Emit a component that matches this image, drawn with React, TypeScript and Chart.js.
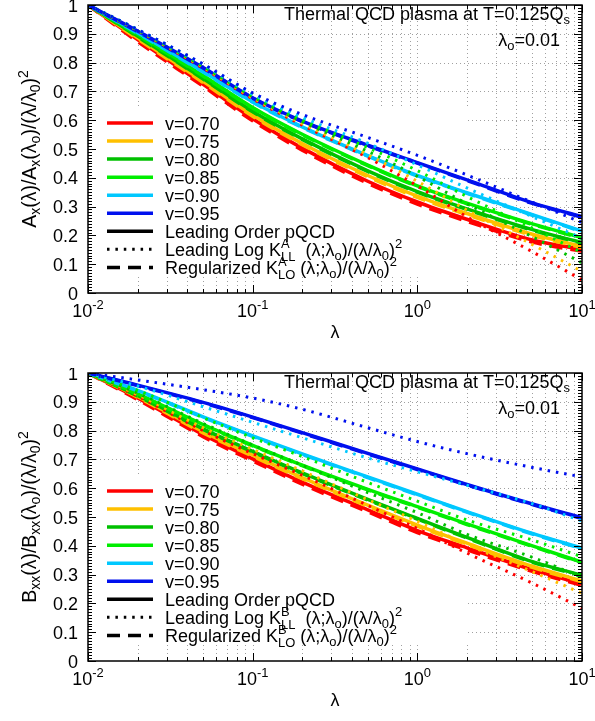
import React, { useEffect, useRef } from 'react';
import { Chart, registerables } from 'chart.js';

Chart.register(...registerables);

// ---------------- data ----------------
const lambdas = [0.01, 0.02, 0.05, 0.1, 0.2, 0.5, 1, 2, 5, 10];
const seriesLabels = ['v=0.70', 'v=0.75', 'v=0.80', 'v=0.85', 'v=0.90', 'v=0.95'];
const seriesColors = ['#ff0000', '#ffc000', '#00c000', '#00ee00', '#00c8ff', '#0010ee'];

const xTickValues = [0.01, 0.1, 1, 10];
const xTickExponents = ['-2', '-1', '0', '1'];
const yTickValues = [0, 0.1, 0.2, 0.3, 0.4, 0.5, 0.6, 0.7, 0.8, 0.9, 1];
const yTickLabels = ['0', '0.1', '0.2', '0.3', '0.4', '0.5', '0.6', '0.7', '0.8', '0.9', '1'];

// Top panel: A_x, Leading Order pQCD (solid)
const aLO070 = [1, 0.88, 0.725, 0.605, 0.503, 0.388, 0.316, 0.256, 0.184, 0.151];
const aLO075 = [1, 0.886, 0.735, 0.618, 0.519, 0.408, 0.336, 0.276, 0.204, 0.162];
const aLO080 = [1, 0.892, 0.745, 0.631, 0.535, 0.424, 0.352, 0.292, 0.22, 0.175];
const aLO085 = [1, 0.898, 0.755, 0.644, 0.551, 0.444, 0.372, 0.312, 0.24, 0.192];
const aLO090 = [1, 0.904, 0.769, 0.664, 0.577, 0.477, 0.408, 0.348, 0.272, 0.215];
const aLO095 = [1, 0.91, 0.783, 0.678, 0.597, 0.513, 0.453, 0.393, 0.313, 0.265];
// Top panel: Leading Log (dotted)
const aLL070 = [1, 0.911, 0.781, 0.674, 0.583, 0.47, 0.372, 0.265, 0.143, 0.045];
const aLL075 = [1, 0.912, 0.784, 0.678, 0.589, 0.48, 0.388, 0.288, 0.168, 0.075];
const aLL080 = [1, 0.913, 0.787, 0.682, 0.595, 0.492, 0.405, 0.31, 0.195, 0.105];
const aLL085 = [1, 0.914, 0.79, 0.686, 0.602, 0.505, 0.425, 0.335, 0.225, 0.14];
const aLL090 = [1, 0.915, 0.793, 0.69, 0.61, 0.52, 0.445, 0.365, 0.265, 0.19];
const aLL095 = [1, 0.915, 0.795, 0.695, 0.62, 0.54, 0.478, 0.41, 0.315, 0.245];
// Top panel: Regularized (dashed)
const aRG070 = [1, 0.873, 0.718, 0.598, 0.496, 0.381, 0.309, 0.249, 0.177, 0.145];
const aRG075 = [1, 0.882, 0.731, 0.614, 0.515, 0.404, 0.332, 0.272, 0.2, 0.158];
const aRG080 = [1, 0.89, 0.743, 0.629, 0.533, 0.422, 0.35, 0.29, 0.218, 0.173];
const aRG085 = [1, 0.896, 0.753, 0.642, 0.549, 0.442, 0.37, 0.31, 0.238, 0.19];
const aRG090 = [1, 0.902, 0.767, 0.662, 0.575, 0.475, 0.406, 0.346, 0.27, 0.213];
const aRG095 = [1, 0.908, 0.781, 0.676, 0.595, 0.511, 0.451, 0.391, 0.311, 0.263];

// Bottom panel: B_xx, Leading Order pQCD (solid)
const bLO070 = [1, 0.913, 0.786, 0.702, 0.621, 0.525, 0.453, 0.393, 0.317, 0.267];
const bLO075 = [1, 0.919, 0.796, 0.715, 0.637, 0.541, 0.472, 0.409, 0.329, 0.278];
const bLO080 = [1, 0.922, 0.806, 0.728, 0.653, 0.561, 0.495, 0.429, 0.345, 0.298];
const bLO085 = [1, 0.928, 0.821, 0.749, 0.68, 0.596, 0.536, 0.476, 0.4, 0.343];
const bLO090 = [1, 0.94, 0.848, 0.782, 0.719, 0.639, 0.579, 0.519, 0.443, 0.392];
const bLO095 = [1, 0.958, 0.898, 0.847, 0.793, 0.721, 0.667, 0.613, 0.545, 0.497];
// Bottom panel: Leading Log (dotted)
const bLL070 = [1, 0.92, 0.8, 0.72, 0.645, 0.54, 0.46, 0.375, 0.27, 0.183];
const bLL075 = [1, 0.925, 0.81, 0.735, 0.66, 0.56, 0.485, 0.405, 0.31, 0.235];
const bLL080 = [1, 0.93, 0.825, 0.75, 0.68, 0.585, 0.515, 0.44, 0.36, 0.29];
const bLL085 = [1, 0.94, 0.845, 0.775, 0.71, 0.62, 0.555, 0.49, 0.42, 0.362];
const bLL090 = [1, 0.955, 0.883, 0.829, 0.775, 0.705, 0.657, 0.61, 0.546, 0.486];
const bLL095 = [1, 0.976, 0.942, 0.913, 0.874, 0.81, 0.762, 0.72, 0.672, 0.639];
// Bottom panel: Regularized (dashed)
const bRG070 = [1, 0.908, 0.779, 0.695, 0.614, 0.518, 0.446, 0.386, 0.311, 0.262];
const bRG075 = [1, 0.916, 0.792, 0.711, 0.633, 0.537, 0.468, 0.405, 0.325, 0.275];
const bRG080 = [1, 0.92, 0.804, 0.726, 0.651, 0.559, 0.493, 0.427, 0.343, 0.296];
const bRG085 = [1, 0.926, 0.819, 0.747, 0.678, 0.594, 0.534, 0.474, 0.398, 0.341];
const bRG090 = [1, 0.938, 0.846, 0.78, 0.717, 0.637, 0.577, 0.517, 0.441, 0.39];
const bRG095 = [1, 0.956, 0.896, 0.845, 0.791, 0.719, 0.665, 0.611, 0.543, 0.495];

// ---------------- text helpers ----------------
type Seg = [string, ('n' | 'sup' | 'sub' | 'stack')?];
const FAMILY = '"Liberation Sans", Arial, Helvetica, sans-serif';
const FS = 18;
const SMALL = 0.72;
const font = (s: number) => `${s}px ${FAMILY}`;

function segW(ctx: CanvasRenderingContext2D, seg: Seg, size: number) {
  const [t, m = 'n'] = seg;
  if (m === 'n') {
    ctx.font = font(size);
    return ctx.measureText(t).width;
  }
  ctx.font = font(size * SMALL);
  if (m === 'stack') {
    const [a, b] = t.split('|');
    return Math.max(ctx.measureText(a).width, ctx.measureText(b).width);
  }
  return ctx.measureText(t).width;
}

function drawRich(
  ctx: CanvasRenderingContext2D,
  segs: Seg[],
  x: number,
  y: number,
  size: number,
  align: 'left' | 'right' | 'center'
) {
  const ws = segs.map((s) => segW(ctx, s, size));
  const total = ws.reduce((a, b) => a + b, 0);
  let cx = align === 'left' ? x : align === 'right' ? x - total : x - total / 2;
  ctx.textAlign = 'left';
  ctx.textBaseline = 'alphabetic';
  ctx.fillStyle = '#000';
  segs.forEach((s, i) => {
    const [t, m = 'n'] = s;
    if (m === 'n') {
      ctx.font = font(size);
      ctx.fillText(t, cx, y);
    } else {
      ctx.font = font(size * SMALL);
      if (m === 'sup') ctx.fillText(t, cx, y - size * 0.42);
      else if (m === 'sub') ctx.fillText(t, cx, y + size * 0.22);
      else {
        const [a, b] = t.split('|');
        ctx.fillText(a, cx, y - size * 0.42);
        ctx.fillText(b, cx, y + size * 0.26);
      }
    }
    cx += ws[i];
  });
}

// ---------------- panels ----------------
interface PanelDef {
  lo: number[][];
  ll: number[][];
  rg: number[][];
  yTitle: Seg[];
  kSup: string;
}

const topPanel: PanelDef = {
  lo: [aLO070, aLO075, aLO080, aLO085, aLO090, aLO095],
  ll: [aLL070, aLL075, aLL080, aLL085, aLL090, aLL095],
  rg: [aRG070, aRG075, aRG080, aRG085, aRG090, aRG095],
  yTitle: [['A'], ['x', 'sub'], ['(λ)/A'], ['x', 'sub'], ['(λ'], ['o', 'sub'], [')/(λ/λ'], ['0', 'sub'], [')'], ['2', 'sup']],
  kSup: 'A',
};

const bottomPanel: PanelDef = {
  lo: [bLO070, bLO075, bLO080, bLO085, bLO090, bLO095],
  ll: [bLL070, bLL075, bLL080, bLL085, bLL090, bLL095],
  rg: [bRG070, bRG075, bRG080, bRG085, bRG090, bRG095],
  yTitle: [['B'], ['xx', 'sub'], ['(λ)/B'], ['xx', 'sub'], ['(λ'], ['o', 'sub'], [')/(λ/λ'], ['0', 'sub'], [')'], ['2', 'sup']],
  kSup: 'B',
};

const DOT = [2.5, 5.9];
const DASH = [13, 8];
const LW = 3.5;

function framePlugin(panel: PanelDef) {
  return {
    id: 'frame',
    beforeDatasetsDraw(chart: any) {
      const { ctx, chartArea: a, scales } = chart;
      const xs = scales.x;
      const ys = scales.y;
      ctx.save();
      ctx.strokeStyle = '#a0a0a0';
      ctx.lineWidth = 1;
      ctx.setLineDash([1, 3]);
      for (let d = -2; d < 1; d++) {
        for (let k = 1; k <= 9; k++) {
          const v = k * Math.pow(10, d);
          if (v <= 0.01) continue;
          const px = Math.round(xs.getPixelForValue(v)) + 0.5;
          ctx.beginPath();
          ctx.moveTo(px, a.top);
          ctx.lineTo(px, a.bottom);
          ctx.stroke();
        }
      }
      yTickValues.forEach((v) => {
        if (v === 0 || v === 1) return;
        const py = Math.round(ys.getPixelForValue(v)) + 0.5;
        ctx.beginPath();
        ctx.moveTo(a.left, py);
        ctx.lineTo(a.right, py);
        ctx.stroke();
      });
      ctx.setLineDash([]);
      // opaque key box
      ctx.fillStyle = '#ffffff';
      ctx.fillRect(a.left + 1, a.top + 103, 379, 169);
      ctx.restore();
    },
    afterDatasetsDraw(chart: any) {
      const { ctx, chartArea: a, scales } = chart;
      const xs = scales.x;
      const ys = scales.y;
      ctx.save();
      // border
      ctx.strokeStyle = '#000';
      ctx.lineWidth = 1.5;
      ctx.strokeRect(a.left, a.top, a.right - a.left, a.bottom - a.top);
      ctx.lineWidth = 1;
      // x ticks (bottom & top, inward)
      for (let d = -2; d <= 1; d++) {
        for (let k = 1; k <= 9; k++) {
          const v = k * Math.pow(10, d);
          if (v > 10) break;
          const px = Math.round(xs.getPixelForValue(v)) + 0.5;
          const len = k === 1 ? 8 : 4;
          ctx.beginPath();
          ctx.moveTo(px, a.bottom);
          ctx.lineTo(px, a.bottom - len);
          ctx.moveTo(px, a.top);
          ctx.lineTo(px, a.top + len);
          ctx.stroke();
        }
      }
      // y ticks (left & right), minor every 0.01
      for (let i = 0; i <= 100; i++) {
        const py = Math.round(ys.getPixelForValue(i / 100)) + 0.5;
        const len = i % 10 === 0 ? 8 : 4;
        ctx.beginPath();
        ctx.moveTo(a.left, py);
        ctx.lineTo(a.left + len, py);
        ctx.moveTo(a.right, py);
        ctx.lineTo(a.right - len, py);
        ctx.stroke();
      }

      // y tick labels
      ctx.fillStyle = '#000';
      ctx.font = font(FS);
      ctx.textAlign = 'right';
      ctx.textBaseline = 'alphabetic';
      yTickValues.forEach((v, i) => {
        ctx.fillText(yTickLabels[i], a.left - 10, ys.getPixelForValue(v) + 6.5);
      });
      // x tick labels
      xTickValues.forEach((v, i) => {
        drawRich(ctx, [['10'], [xTickExponents[i], 'sup']], xs.getPixelForValue(v), a.bottom + 24, FS, 'center');
      });
      // axis titles
      drawRich(ctx, [['λ']], (a.left + a.right) / 2, a.bottom + 45, FS, 'center');
      ctx.save();
      ctx.translate(36, (a.top + a.bottom) / 2);
      ctx.rotate(-Math.PI / 2);
      drawRich(ctx, panel.yTitle, 0, 0, 19.5, 'center');
      ctx.restore();

      // labels
      drawRich(ctx, [['Thermal QCD plasma at T=0.125Q'], ['s', 'sub']], a.right - 12, a.top + 15, FS, 'right');
      drawRich(ctx, [['λ'], ['o', 'sub'], ['=0.01']], a.right - 22, a.top + 41, FS, 'right');

      // key
      const rowY0 = a.top + 118;
      const rowH = 18.05;
      const lx0 = a.left + 19;
      const lx1 = a.left + 65;
      const tx = a.left + 77;
      const keyRows: { color: string; dash: number[]; lw: number; text: Seg[] }[] = [];
      seriesLabels.forEach((lab, i) => keyRows.push({ color: seriesColors[i], dash: [], lw: LW, text: [[lab]] }));
      keyRows.push({ color: '#000', dash: [], lw: LW, text: [['Leading Order pQCD']] });
      keyRows.push({
        color: '#000',
        dash: DOT,
        lw: 3,
        text: [['Leading Log K'], [panel.kSup + '|LL', 'stack'], ['  (λ;λ'], ['o', 'sub'], [')/(λ/λ'], ['0', 'sub'], [')'], ['2', 'sup']],
      });
      keyRows.push({
        color: '#000',
        dash: DASH,
        lw: LW,
        text: [['Regularized K'], [panel.kSup + '|LO', 'stack'], [' (λ;λ'], ['o', 'sub'], [')/(λ/λ'], ['0', 'sub'], [')'], ['2', 'sup']],
      });
      keyRows.forEach((r, i) => {
        const y = rowY0 + i * rowH;
        ctx.strokeStyle = r.color;
        ctx.lineWidth = r.lw;
        ctx.lineCap = 'butt';
        ctx.setLineDash(r.dash);
        ctx.beginPath();
        ctx.moveTo(lx0, y);
        ctx.lineTo(lx1, y);
        ctx.stroke();
        ctx.setLineDash([]);
        drawRich(ctx, r.text, tx, y + 6.5, FS, 'left');
      });
      ctx.restore();
    },
  };
}

function makeConfig(panel: PanelDef, xAxisH: number): any {
  const datasets: any[] = [];
  const pts = (vals: number[]) => lambdas.map((x, i) => ({ x, y: vals[i] }));
  panel.lo.forEach((vals, i) =>
    datasets.push({
      label: seriesLabels[i] + ' LO',
      data: pts(vals),
      borderColor: seriesColors[i],
      borderWidth: LW,
      order: 30 - i,
    })
  );
  panel.rg.forEach((vals, i) =>
    datasets.push({
      label: seriesLabels[i] + ' Reg',
      data: pts(vals),
      borderColor: seriesColors[i],
      borderWidth: LW,
      borderDash: DASH,
      order: 20 - i,
    })
  );
  panel.ll.forEach((vals, i) =>
    datasets.push({
      label: seriesLabels[i] + ' LL',
      data: pts(vals),
      borderColor: seriesColors[i],
      borderWidth: 3,
      borderDash: DOT,
      borderCapStyle: 'butt',
      order: 10 - i,
    })
  );
  datasets.forEach((d) => {
    d.fill = false;
    d.pointRadius = 0;
    d.cubicInterpolationMode = 'monotone';
  });
  return {
    type: 'line',
    data: { datasets },
    options: {
      animation: false,
      responsive: false,
      events: [],
      layout: { padding: { top: 5, right: 13, left: 0, bottom: 0 }, autoPadding: false },
      plugins: { legend: { display: false }, tooltip: { enabled: false }, title: { display: false } },
      scales: {
        x: {
          type: 'logarithmic',
          min: 0.01,
          max: 10,
          grid: { display: false },
          border: { display: false },
          ticks: { display: false },
          afterFit: (s: any) => {
            s.height = xAxisH;
          },
        },
        y: {
          type: 'linear',
          min: 0,
          max: 1,
          grid: { display: false },
          border: { display: false },
          ticks: { display: false },
          afterFit: (s: any) => {
            s.width = 88;
          },
        },
      },
    },
    plugins: [framePlugin(panel)],
  };
}

function Panel({ panel, top, height }: { panel: PanelDef; top: number; height: number }) {
  const ref = useRef<HTMLCanvasElement>(null);
  useEffect(() => {
    const chart = new Chart(ref.current as HTMLCanvasElement, makeConfig(panel, height - 5 - 288));
    return () => chart.destroy();
  }, []);
  return (
    <canvas
      ref={ref}
      width={595}
      height={height}
      style={{ position: 'absolute', left: 0, top, width: 595, height }}
    />
  );
}

export default function App() {
  return (
    <div style={{ position: 'absolute', left: 0, top: 0, width: 595, height: 721, background: '#fff', overflow: 'hidden' }}>
      <Panel panel={topPanel} top={0} height={360} />
      <Panel panel={bottomPanel} top={368} height={353} />
    </div>
  );
}
